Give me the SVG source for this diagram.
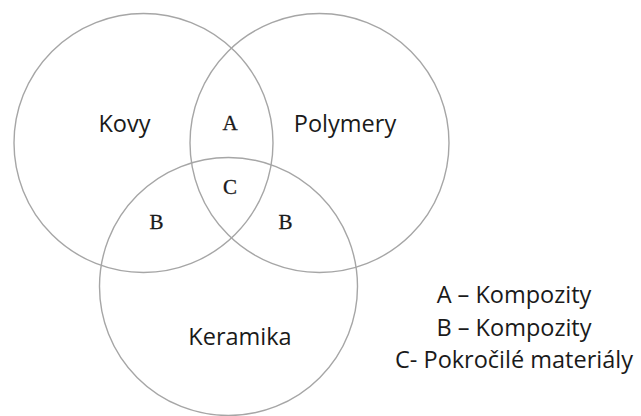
<svg xmlns="http://www.w3.org/2000/svg" width="641" height="416" viewBox="0 0 641 416">
  <style>
    .set { fill: none; stroke: #a6a6a6; stroke-width: 1.4; }
    .name { font-family: "Open Sans", "Noto Sans", sans-serif; font-size: 23.5px; fill: #1a1a1a; text-anchor: middle; }
    .zone { font-family: "Liberation Serif", "DejaVu Serif", serif; font-size: 21px; fill: #1a1a1a; stroke: #1a1a1a; stroke-width: 0.3; text-anchor: middle; }
  </style>
  <rect width="641" height="416" fill="#ffffff"/>

  <!-- three overlapping material sets -->
  <g id="kovy">
    <circle class="set" cx="143.5" cy="143" r="129.5"/>
    <text class="name" x="124.5" y="132">Kovy</text>
  </g>
  <g id="polymery">
    <circle class="set" cx="319.5" cy="143" r="129.5"/>
    <text class="name" x="345" y="132">Polymery</text>
  </g>
  <g id="keramika">
    <circle class="set" cx="228.5" cy="286.5" r="129"/>
    <text class="name" x="240" y="345">Keramika</text>
  </g>

  <!-- overlap zone letters -->
  <g id="zones">
    <text class="zone" x="230" y="130">A</text>
    <text class="zone" x="230" y="194">C</text>
    <text class="zone" x="156.5" y="229">B</text>
    <text class="zone" x="285.5" y="229">B</text>
  </g>

  <!-- legend -->
  <g id="legend">
    <text class="name" x="514" y="303">A – Kompozity</text>
    <text class="name" x="514" y="336">B – Kompozity</text>
    <text class="name" x="514" y="368">C- Pokročilé materiály</text>
  </g>
</svg>
